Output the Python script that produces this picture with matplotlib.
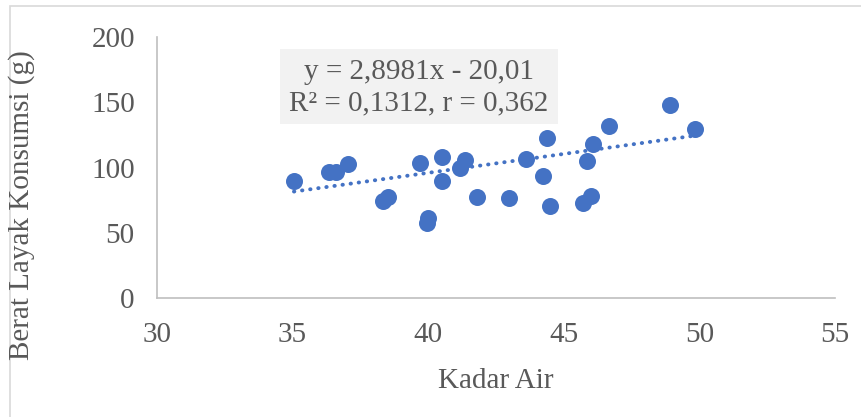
import matplotlib
matplotlib.use('Agg')
import matplotlib.pyplot as plt
from matplotlib.patches import Rectangle
import numpy as np

# kadar air (%) vs berat layak konsumsi (g)
kadar_air = [35.05, 36.35, 36.6, 37.03, 38.32, 38.53, 39.7, 39.94, 40.0,
             40.5, 40.52, 41.17, 41.36, 41.79, 42.98, 43.6, 44.23, 44.37,
             44.49, 45.72, 45.84, 46.0, 46.06, 46.65, 48.9, 49.85]
berat = [89.9, 96.8, 96.8, 102.7, 74.6, 77.2, 103.7, 57.7, 61.0,
         107.8, 89.9, 99.3, 105.7, 77.2, 76.6, 106.3, 93.7, 122.4,
         70.5, 72.6, 105.2, 77.9, 118.0, 131.8, 147.9, 129.3]

slope = 2.8981
intercept = -20.01
r2 = 0.1312
r = 0.362

x_ticks = [30, 35, 40, 45, 50, 55]
y_ticks = [0, 50, 100, 150, 200]

blue = '#4472C4'
grey_txt = '#595959'
plt.rcParams['font.family'] = ['Liberation Serif', 'DejaVu Serif']

fig = plt.figure(figsize=(8.62, 4.17), dpi=100)
ax = fig.add_axes([157 / 862, 1 - 298 / 417, (835 - 157) / 862, (298 - 37) / 417])

# outer chart border
fig.patches.append(Rectangle((10 / 862, -0.1), 1.1, 1 - 6 / 417 + 0.1,
                             transform=fig.transFigure, fill=False,
                             edgecolor='#d9d9d9', linewidth=1.2))

ax.scatter(kadar_air, berat, s=150, color=blue, zorder=3, linewidths=0)

xs = np.array([min(kadar_air), max(kadar_air)])
ax.plot(xs, slope * xs + intercept, color=blue, linewidth=2.8,
        linestyle=(0, (0.1, 2.0)), dash_capstyle='round', zorder=2)

ax.set_xlim(30, 55)
ax.set_ylim(0, 200)
ax.set_xticks(x_ticks)
ax.set_yticks(y_ticks)
ax.tick_params(length=0, labelsize=21, colors=grey_txt)
ax.tick_params(axis='y', pad=16)
ax.tick_params(axis='x', pad=17)

for side in ['top', 'right']:
    ax.spines[side].set_visible(False)
for side in ['left', 'bottom']:
    ax.spines[side].set_color('#bfbfbf')
    ax.spines[side].set_linewidth(1.2)

ax.set_xlabel('Kadar Air', fontsize=21, color=grey_txt, labelpad=15)
fig.text(22 / 862, 1 - 205 / 417, 'Berat Layak Konsumsi (g)', rotation=90,
         ha='center', va='center', fontsize=21, color=grey_txt)

# trendline equation box
fig.patches.append(Rectangle((280 / 862, 1 - 124 / 417), 278 / 862, 75 / 417,
                             transform=fig.transFigure, facecolor='#f2f2f2',
                             edgecolor='none', zorder=1))
eq = 'y = {}x - {}'.format(str(slope).replace('.', ','), str(-intercept).replace('.', ','))
stats = 'R² = {}, r = {}'.format(str(r2).replace('.', ','), str(r).replace('.', ','))
fig.text(419 / 862, 1 - 72 / 417, eq, ha='center', va='center',
         fontsize=21, color=grey_txt, zorder=2)
fig.text(419 / 862, 1 - 103 / 417, stats, ha='center', va='center',
         fontsize=21, color=grey_txt, zorder=2)

fig.savefig('out.png', dpi=100)
